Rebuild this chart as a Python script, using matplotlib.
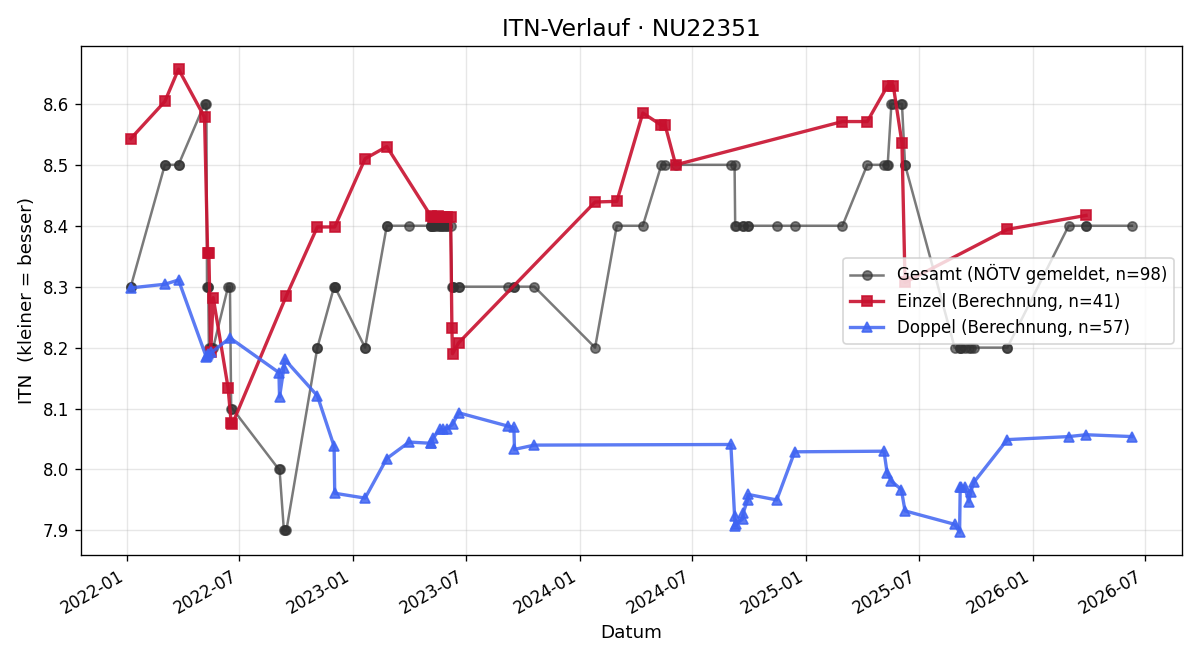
import pandas as pd
import matplotlib
matplotlib.use("Agg")
import matplotlib.pyplot as plt

# Gesamt (NÖTV gemeldet)
gesamt_dates = [
    "2022-01-07", "2022-01-07", "2022-03-03", "2022-03-03", "2022-03-25", "2022-03-25",
    "2022-05-06", "2022-05-09", "2022-05-10", "2022-05-11", "2022-05-12", "2022-05-13",
    "2022-05-16", "2022-05-17", "2022-05-20", "2022-06-13", "2022-06-16", "2022-06-18",
    "2022-06-20", "2022-09-03", "2022-09-04", "2022-09-11", "2022-09-12", "2022-09-15",
    "2022-11-04", "2022-11-04", "2022-12-01", "2022-12-02", "2022-12-02",
    "2023-01-20", "2023-01-20", "2023-02-24", "2023-02-24", "2023-04-01",
    "2023-05-06", "2023-05-06", "2023-05-07", "2023-05-09", "2023-05-10", "2023-05-13",
    "2023-05-17", "2023-05-21", "2023-05-22", "2023-05-25", "2023-05-27", "2023-06-01",
    "2023-06-01", "2023-06-07", "2023-06-09", "2023-06-10", "2023-06-10", "2023-06-20",
    "2023-06-20", "2023-09-08", "2023-09-17", "2023-09-18", "2023-10-20",
    "2024-01-26", "2024-03-01", "2024-04-12", "2024-05-12", "2024-05-18", "2024-06-04",
    "2024-09-01", "2024-09-07", "2024-09-08", "2024-09-09", "2024-09-20", "2024-09-21",
    "2024-09-28", "2024-09-29", "2024-11-14", "2024-12-13",
    "2025-02-28", "2025-04-09", "2025-05-06", "2025-05-11", "2025-05-12", "2025-05-18",
    "2025-05-21", "2025-06-03", "2025-06-04", "2025-06-09", "2025-06-09",
    "2025-08-28", "2025-09-05", "2025-09-06", "2025-09-07", "2025-09-13", "2025-09-20",
    "2025-09-23", "2025-09-28", "2025-11-21", "2025-11-21",
    "2026-02-28", "2026-03-28", "2026-03-28", "2026-06-10",
]
gesamt_itn = [
    8.3, 8.3, 8.5, 8.5, 8.5, 8.5,
    8.6, 8.6, 8.3, 8.3, 8.3, 8.2,
    8.2, 8.2, 8.2, 8.3, 8.3, 8.1,
    8.1, 8.0, 8.0, 7.9, 7.9, 7.9,
    8.2, 8.2, 8.3, 8.3, 8.3,
    8.2, 8.2, 8.4, 8.4, 8.4,
    8.4, 8.4, 8.4, 8.4, 8.4, 8.4,
    8.4, 8.4, 8.4, 8.4, 8.4, 8.4,
    8.4, 8.4, 8.3, 8.3, 8.3, 8.3,
    8.3, 8.3, 8.3, 8.3, 8.3,
    8.2, 8.4, 8.4, 8.5, 8.5, 8.5,
    8.5, 8.5, 8.4, 8.4, 8.4, 8.4,
    8.4, 8.4, 8.4, 8.4,
    8.4, 8.5, 8.5, 8.5, 8.5, 8.6,
    8.6, 8.6, 8.6, 8.5, 8.5,
    8.2, 8.2, 8.2, 8.2, 8.2, 8.2,
    8.2, 8.2, 8.2, 8.2,
    8.4, 8.4, 8.4, 8.4,
]

# Einzel (Berechnung)
einzel_dates = [
    "2022-01-07", "2022-03-03", "2022-03-25", "2022-05-06", "2022-05-11", "2022-05-13",
    "2022-05-16", "2022-05-20", "2022-06-13", "2022-06-18", "2022-06-20", "2022-09-15",
    "2022-11-04", "2022-12-02", "2023-01-20", "2023-02-24",
    "2023-05-06", "2023-05-09", "2023-05-13", "2023-05-17", "2023-05-22", "2023-05-27",
    "2023-06-01", "2023-06-07", "2023-06-09", "2023-06-10", "2023-06-20",
    "2024-01-26", "2024-03-01", "2024-04-12", "2024-05-12", "2024-05-18", "2024-06-04",
    "2025-02-28", "2025-04-09", "2025-05-12", "2025-05-21", "2025-06-04", "2025-06-09",
    "2025-11-21", "2026-03-28",
]
einzel_itn = [
    8.543, 8.604, 8.657, 8.578, 8.355, 8.355,
    8.192, 8.282, 8.134, 8.076, 8.075, 8.285,
    8.398, 8.398, 8.510, 8.530,
    8.416, 8.415, 8.414, 8.416, 8.414, 8.415,
    8.414, 8.415, 8.233, 8.190, 8.208,
    8.439, 8.440, 8.585, 8.565, 8.565, 8.500,
    8.571, 8.571, 8.630, 8.630, 8.536, 8.307,
    8.394, 8.417,
]

# Doppel (Berechnung)
doppel_dates = [
    "2022-01-07", "2022-03-03", "2022-03-25", "2022-05-09", "2022-05-10", "2022-05-12",
    "2022-05-17", "2022-06-16", "2022-09-03", "2022-09-04", "2022-09-11", "2022-09-12",
    "2022-11-04", "2022-12-01", "2022-12-02",
    "2023-01-20", "2023-02-24", "2023-04-01", "2023-05-06", "2023-05-07", "2023-05-10",
    "2023-05-21", "2023-05-25", "2023-06-01", "2023-06-10", "2023-06-20",
    "2023-09-08", "2023-09-17", "2023-09-18", "2023-10-20",
    "2024-09-01", "2024-09-07", "2024-09-08", "2024-09-09", "2024-09-20", "2024-09-21",
    "2024-09-28", "2024-09-29", "2024-11-14", "2024-12-13",
    "2025-05-06", "2025-05-11", "2025-05-18", "2025-06-03", "2025-06-09",
    "2025-08-28", "2025-09-05", "2025-09-06", "2025-09-07", "2025-09-13", "2025-09-20",
    "2025-09-23", "2025-09-28", "2025-11-21",
    "2026-02-28", "2026-03-28", "2026-06-10",
]
doppel_itn = [
    8.298, 8.304, 8.311, 8.184, 8.186, 8.190,
    8.192, 8.216, 8.159, 8.119, 8.167, 8.181,
    8.121, 8.038, 7.961,
    7.953, 8.018, 8.045, 8.043, 8.044, 8.052,
    8.066, 8.066, 8.067, 8.074, 8.093,
    8.071, 8.069, 8.033, 8.040,
    8.041, 7.924, 7.908, 7.910, 7.919, 7.929,
    7.950, 7.959, 7.950, 8.029,
    8.030, 7.995, 7.981, 7.967, 7.932,
    7.910, 7.897, 7.972, 7.972, 7.972, 7.947,
    7.963, 7.979, 8.049,
    8.054, 8.057, 8.054,
]

gesamt_dates = pd.to_datetime(gesamt_dates)
einzel_dates = pd.to_datetime(einzel_dates)
doppel_dates = pd.to_datetime(doppel_dates)

fig, ax = plt.subplots(figsize=(10, 5.5), dpi=120)

ax.plot(gesamt_dates, gesamt_itn, color="#333333", alpha=0.65, marker="o",
        markersize=5.5, linewidth=1.5,
        label=f"Gesamt (NÖTV gemeldet, n={len(gesamt_itn)})")
ax.plot(einzel_dates, einzel_itn, color="#c8102e", alpha=0.9, marker="s",
        markersize=6.5, linewidth=2,
        label=f"Einzel (Berechnung, n={len(einzel_itn)})")
ax.plot(doppel_dates, doppel_itn, color="#3f64f2", alpha=0.85, marker="^",
        markersize=6.5, linewidth=2,
        label=f"Doppel (Berechnung, n={len(doppel_itn)})")

ax.set_title("ITN-Verlauf · NU22351", fontsize=14)
ax.set_xlabel("Datum", fontsize=11)
ax.set_ylabel("ITN  (kleiner = besser)", fontsize=11)
ax.grid(True, alpha=0.3)
ax.legend(loc="center right", fontsize=10)
fig.autofmt_xdate()
fig.tight_layout()
fig.savefig("out.png")
